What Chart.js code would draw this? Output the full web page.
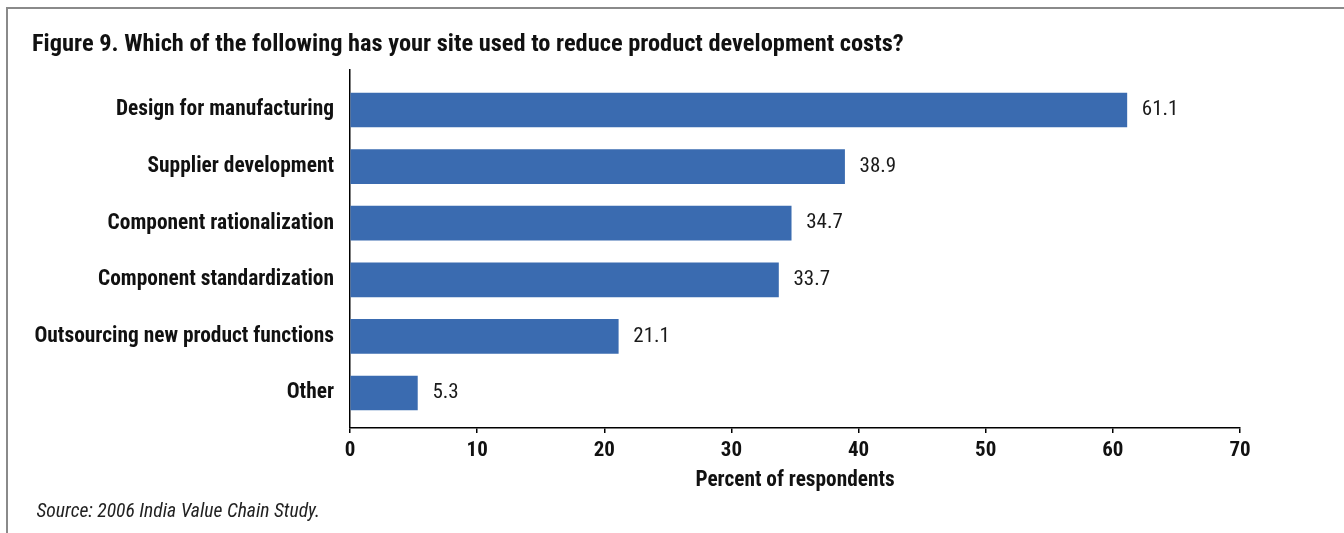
<!DOCTYPE html>
<html>
<head>
<meta charset="utf-8">
<script src="https://cdn.jsdelivr.net/npm/chart.js@4.4.1/dist/chart.umd.min.js"></script>
<style>
  html, body { margin: 0; padding: 0; background: #fff; }
  #wrap { position: relative; width: 1344px; height: 533px; overflow: hidden; }
  #frame { position: absolute; left: 6px; top: 7px; right: -4px; bottom: -4px;
           border-top: 2px solid #8a8a8a; border-left: 2px solid #8a8a8a; pointer-events: none; }
</style>
</head>
<body>
<div id="wrap">
  <canvas id="chart" width="1344" height="533"></canvas>
  <div id="frame"></div>
</div>
<script>
var categories = ["Design for manufacturing", "Supplier development", "Component rationalization",
                  "Component standardization", "Outsourcing new product functions", "Other"];
var percents = [61.1, 38.9, 34.7, 33.7, 21.1, 5.3];
var xTicks = [0, 10, 20, 30, 40, 50, 60, 70];

var FONT = "'Roboto Condensed', 'Liberation Sans Narrow', sans-serif";

// value labels at the end of each bar
var barValues = {
    id: "barValues",
    afterDatasetsDraw: function (chart) {
        var ctx = chart.ctx;
        var meta = chart.getDatasetMeta(0);
        ctx.save();
        ctx.font = "21px " + FONT;
        ctx.fillStyle = "#1a1a1a";
        ctx.textAlign = "left";
        ctx.textBaseline = "middle";
        meta.data.forEach(function (bar, i) {
            ctx.fillText(percents[i].toFixed(1), bar.x + 15, bar.y);
        });
        ctx.restore();
    }
};

new Chart(document.getElementById("chart"), {
    type: "bar",
    data: {
        datasets: [{
            data: percents.map(function (v, i) { return { x: v, y: i }; }),
            backgroundColor: "#3a6bb0",
            borderWidth: 0,
            barThickness: 34
        }]
    },
    options: {
        indexAxis: "y",
        responsive: false,
        animation: false,
        devicePixelRatio: 1,
        layout: { padding: { left: 32, right: 104, top: 0, bottom: 0 } },
        plugins: {
            legend: { display: false },
            tooltip: { enabled: false },
            title: {
                display: true,
                text: "Figure 9. Which of the following has your site used to reduce product development costs?",
                align: "start",
                color: "#111",
                font: { family: FONT, size: 24.4, weight: "bold", lineHeight: 1.2 },
                padding: { top: 30.3, bottom: 10.4 }
            },
            subtitle: {
                display: true,
                position: "bottom",
                text: " Source: 2006 India Value Chain Study.",
                align: "start",
                color: "#222",
                font: { family: FONT, size: 19.6, style: "italic", lineHeight: 1.2 },
                padding: { top: 1, bottom: 9.2 }
            }
        },
        scales: {
            x: {
                type: "linear",
                min: 0,
                max: 70,
                afterBuildTicks: function (scale) {
                    scale.ticks = xTicks.map(function (v) { return { value: v }; });
                },
                afterFit: function (scale) { scale.height = 71.3; },
                grid: { drawOnChartArea: false, drawTicks: true, tickLength: 5, color: "#000", lineWidth: 1.5 },
                border: { display: true, color: "#000", width: 1.5 },
                ticks: {
                    color: "#111",
                    padding: 5,
                    font: { family: FONT, size: 21, weight: "bold" }
                },
                title: {
                    display: true,
                    text: "Percent of respondents",
                    color: "#111",
                    font: { family: FONT, size: 21.3, weight: "bold", lineHeight: 1.2 },
                    padding: { top: 0, bottom: 5.5 }
                }
            },
            y: {
                type: "linear",
                reverse: true,
                offset: false,
                min: -0.707,
                max: 5.618,
                afterFit: function (scale) { scale.width = 318; },
                grid: { display: false, drawTicks: false },
                border: { display: true, color: "#000", width: 1.5 },
                ticks: {
                    stepSize: 1,
                    includeBounds: false,
                    padding: 16,
                    color: "#111",
                    font: { family: FONT, size: 21.4, weight: "bold" },
                    callback: function (v) { return categories[v]; }
                }
            }
        }
    },
    plugins: [barValues]
});
</script>
</body>
</html>
